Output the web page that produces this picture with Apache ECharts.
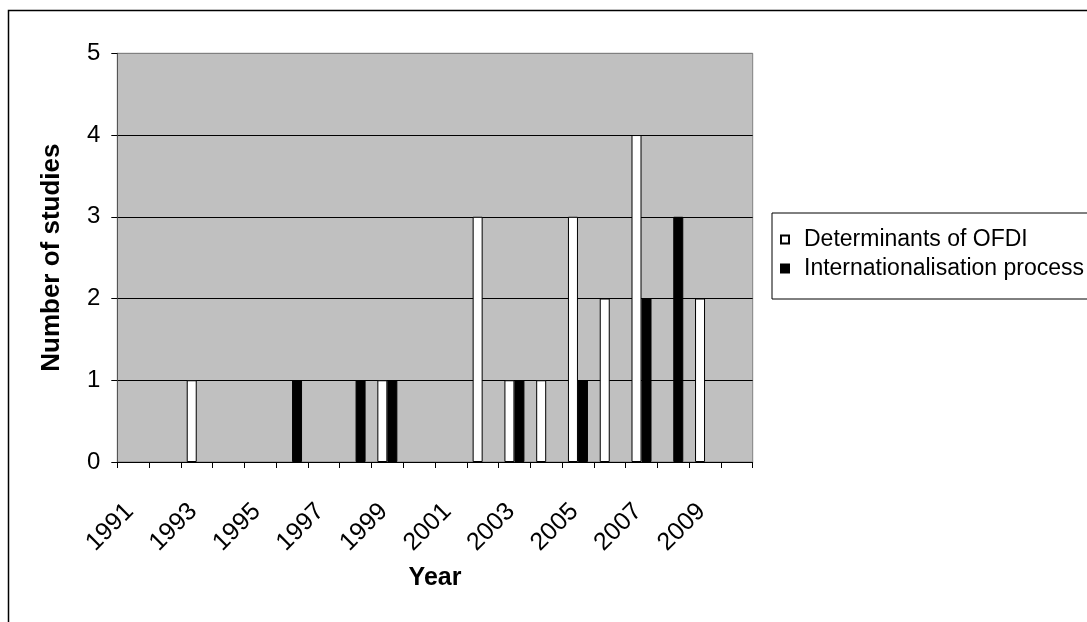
<!DOCTYPE html>
<html>
<head>
<meta charset="utf-8">
<script src="https://cdn.jsdelivr.net/npm/echarts@6/dist/echarts.min.js"></script>
<style>
  html, body { margin: 0; padding: 0; background: #fff; }
  #chart { width: 1087px; height: 622px; }
</style>
</head>
<body>
<div id="chart"></div>
<script>
const years = ['1991','1992','1993','1994','1995','1996','1997','1998','1999','2000',
               '2001','2002','2003','2004','2005','2006','2007','2008','2009','2010'];
const determinants = [0,0,1,0,0,0,0,0,1,0,0,3,1,1,3,2,4,0,2,0];
const internationalisation = [0,0,0,0,0,1,0,1,1,0,0,0,1,0,1,0,2,3,0,0];
const seriesNames = ['Determinants of OFDI', 'Internationalisation process'];
const yTicks = { min: 0, max: 5, interval: 1 };

// zero counts draw no bar
const noZero = arr => arr.map(v => (v === 0 ? null : v));

const FONT = "'Liberation Sans', Arial, sans-serif";
const chart = echarts.init(document.getElementById('chart'), null, { renderer: 'canvas' });

chart.setOption({
  backgroundColor: '#ffffff',
  animation: false,
  textStyle: { fontFamily: FONT, color: '#000' },
  graphic: [{
    type: 'rect',
    shape: { x: 8.5, y: 10.5, width: 1200, height: 800 },
    style: { fill: 'none', stroke: '#000', lineWidth: 1.5 },
    silent: true, z: -1
  }],
  grid: {
    left: 117.3, right: 334.3, top: 53.3, bottom: 160,
    show: true, backgroundColor: '#c0c0c0', borderColor: '#808080', borderWidth: 1
  },
  legend: {
    orient: 'vertical',
    left: 772, top: 213,
    padding: [15, 30, 19, 8],
    itemWidth: 8, itemHeight: 8,
    itemGap: 6,
    icon: 'rect',
    borderColor: '#000', borderWidth: 1,
    backgroundColor: '#fff',
    textStyle: { fontFamily: FONT, fontSize: 23, color: '#000', padding: [0, 0, 0, 10], lineHeight: 23 },
    data: seriesNames
  },
  xAxis: {
    type: 'category',
    data: years,
    boundaryGap: true,
    name: 'Year',
    nameLocation: 'middle',
    nameGap: 104,
    nameTextStyle: { fontFamily: FONT, fontSize: 25, fontWeight: 'bold', color: '#000' },
    axisLine: { lineStyle: { color: '#000', width: 1 } },
    axisTick: { show: true, length: 6, lineStyle: { color: '#000' }, interval: 0 },
    axisLabel: { interval: 1, rotate: 45, margin: 42, padding: [0, 5, 0, 0], fontFamily: FONT, fontSize: 25, color: '#000' },
    splitLine: { show: false }
  },
  yAxis: {
    type: 'value',
    min: yTicks.min, max: yTicks.max, interval: yTicks.interval,
    name: 'Number of studies',
    nameLocation: 'middle',
    nameGap: 52,
    nameTextStyle: { fontFamily: FONT, fontSize: 26, fontWeight: 'bold', color: '#000' },
    axisLine: { show: true, lineStyle: { color: '#555', width: 1 } },
    axisTick: { show: true, length: 6, lineStyle: { color: '#000' } },
    axisLabel: { margin: 17, fontFamily: FONT, fontSize: 24, color: '#000' },
    splitLine: { show: true, lineStyle: { color: ['#000','#000','#000','#000','#000','#808080'], width: 1 } }
  },
  series: [
    {
      name: seriesNames[0], type: 'bar', data: noZero(determinants),
      barWidth: 10, barGap: '0%',
      itemStyle: { color: '#ffffff', borderColor: '#000', borderWidth: 1 }
    },
    {
      name: seriesNames[1], type: 'bar', data: noZero(internationalisation),
      barWidth: 10, barGap: '0%',
      itemStyle: { color: '#000000', borderColor: '#000', borderWidth: 1 }
    }
  ]
});
</script>
</body>
</html>
